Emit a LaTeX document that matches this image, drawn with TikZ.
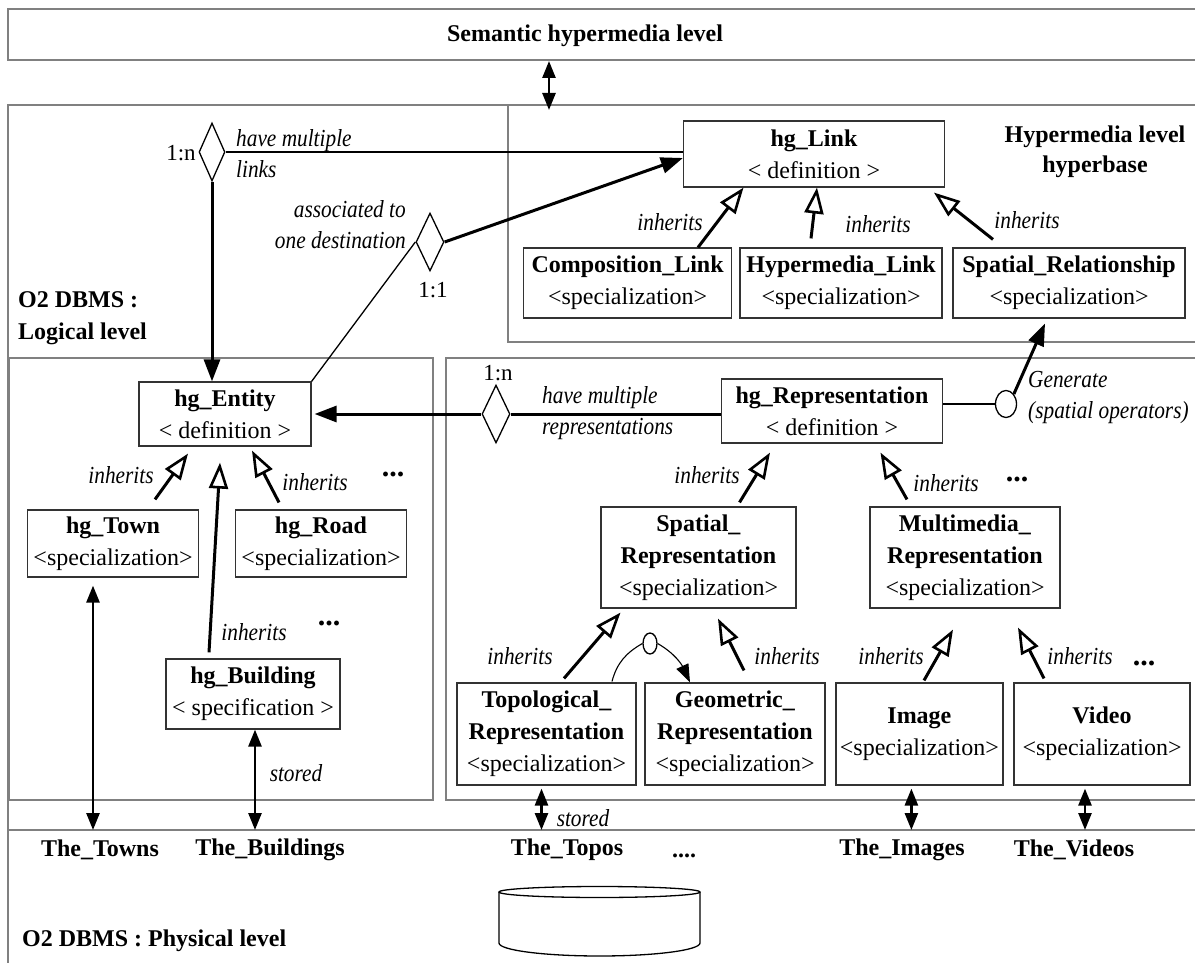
\documentclass[tikz,border=0pt]{standalone}
\usepackage{fontspec}
\setmainfont{Liberation Serif}
\newfontfamily\condserif{Liberation Serif}[FakeStretch=0.87]
\usetikzlibrary{arrows.meta,shapes.geometric,calc}
\begin{document}
\begin{tikzpicture}[x=1pt,y=-1pt,
  frame/.style={draw=black!50, line width=1.3pt},
  cls/.style={draw=black!80, line width=1.2pt, align=center, inner sep=0pt, font=\fontsize{24}{32}\selectfont},
  lbl/.style={font=\condserif\fontsize{24.5}{31}\selectfont\itshape, inner sep=0pt},
  blbl/.style={font=\fontsize{24}{32}\selectfont\bfseries, inner sep=0pt},
  dots/.style={font=\fontsize{30}{32}\selectfont\bfseries, inner sep=0pt},
  card/.style={font=\fontsize{23}{28}\selectfont, inner sep=0pt},
  diam/.style={draw=black, line width=1.3pt, diamond, inner sep=0pt, minimum width=26pt, minimum height=58pt},
  ell/.style={draw=black, line width=1.3pt, ellipse, inner sep=0pt},
  thinl/.style={line width=1.3pt},
  inh/.style={line width=3pt, -{Triangle[open, length=26pt, width=19pt, line width=2.6pt]}},
  assoc/.style={line width=3pt, -{Triangle[length=22pt, width=16pt]}},
  dbl/.style={line width=2.6pt, {Triangle[length=17pt, width=13pt]}-{Triangle[length=17pt, width=13pt]}}
]
\useasboundingbox (0,0) rectangle (1195,963);
% frames
\draw[frame] (1195,9) -- (8,9) -- (8,60) -- (1195,60);
\draw[frame] (1195,105) -- (8,105) -- (8,963);
\draw[frame] (508,105) -- (508,342) -- (1195,342);
\draw[frame] (9,358) rectangle (433,800);
\draw[frame] (1195,358) -- (446,358) -- (446,800) -- (1195,800);
\draw[frame] (8,830) -- (1195,830);

% level titles
\node[blbl] (sem) at (585,36) {Semantic hypermedia level};
\node[blbl, align=center] (hlh) at (1095,152) {Hypermedia level\\[-2pt]hyperbase};
\node[blbl, align=left, anchor=west] (lgl) at (18,318) {O2 DBMS :\\Logical level};
\node[blbl, anchor=west] (phys) at (22,941) {O2 DBMS : Physical level};

% class boxes
\node[cls, minimum width=261pt, minimum height=66pt] (hgLink) at (814,154) {\textbf{hg\_Link}\\< definition >};
\node[cls, minimum width=208pt, minimum height=70pt] (compLink) at (627.6,283) {\textbf{Composition\_Link}\\<specialization>};
\node[cls, minimum width=202pt, minimum height=70pt] (hyperLink) at (841,283) {\textbf{Hypermedia\_Link}\\<specialization>};
\node[cls, minimum width=232pt, minimum height=70pt] (spatRel) at (1069,283) {\textbf{Spatial\_Relationship}\\<specialization>};
\node[cls, minimum width=172pt, minimum height=64pt] (hgEntity) at (225,414) {\textbf{hg\_Entity}\\< definition >};
\node[cls, minimum width=171pt, minimum height=67pt] (hgTown) at (113,543.5) {\textbf{hg\_Town}\\<specialization>};
\node[cls, minimum width=171pt, minimum height=67pt] (hgRoad) at (321,543.5) {\textbf{hg\_Road}\\<specialization>};
\node[cls, minimum width=174pt, minimum height=70pt] (hgBuilding) at (253,694) {\textbf{hg\_Building}\\< specification >};
\node[cls, minimum width=221pt, minimum height=64pt] (hgRepr) at (832,411) {\textbf{hg\_Representation}\\< definition >};
\node[cls, minimum width=195pt, minimum height=101pt] (spatRepr) at (698.5,557.5) {\textbf{Spatial\_}\\\textbf{Representation}\\<specialization>};
\node[cls, minimum width=190pt, minimum height=101pt] (multiRepr) at (965,557.5) {\textbf{Multimedia\_}\\\textbf{Representation}\\<specialization>};
\node[cls, minimum width=179pt, minimum height=102pt] (topo) at (546.5,734) {\textbf{Topological\_}\\\textbf{Representation}\\<specialization>};
\node[cls, minimum width=180pt, minimum height=102pt] (geom) at (735,734) {\textbf{Geometric\_}\\\textbf{Representation}\\<specialization>};
\node[cls, minimum width=167pt, minimum height=102pt] (image) at (919.4,734) {\textbf{Image}\\<specialization>};
\node[cls, minimum width=176pt, minimum height=102pt] (video) at (1102,734) {\textbf{Video}\\<specialization>};

% diamonds and circles
\node[diam] (d1) at (212,152) {};
\node[diam, minimum width=28pt] (d2) at (430,242) {};
\node[diam, minimum width=28pt] (d3) at (496,414) {};
\node[ell, minimum width=21pt, minimum height=27pt] (gen) at (1006,404) {};
\node[ell, minimum width=14pt, minimum height=21pt] (arcc) at (650,643.5) {};

% association labels
\node[card] (c1) at (181,153) {1:n};
\node[lbl, align=left, anchor=west] (hml) at (236,154) {have multiple\\links};
\node[lbl, align=right, anchor=east] (atd) at (406,225) {associated to\\one destination};
\node[card] (c2) at (433,290) {1:1};
\node[card] (c3) at (498,373) {1:n};
\node[lbl, align=left, anchor=west] (hmr) at (542,413) {have multiple\\representations};
\node[lbl, align=left, anchor=west] (genl) at (1028,397) {Generate\\(spatial operators)};

% inherits labels
\node[lbl] (i1) at (670,222) {inherits};
\node[lbl] (i2) at (878,224) {inherits};
\node[lbl] (i3) at (1027,220) {inherits};
\node[lbl] (i4) at (121,475) {inherits};
\node[lbl] (i5) at (315,482) {inherits};
\node[lbl] (i6) at (254,632) {inherits};
\node[lbl] (i7) at (707,475) {inherits};
\node[lbl] (i8) at (946,483) {inherits};
\node[lbl] (i9) at (520,656) {inherits};
\node[lbl] (i10) at (787,656) {inherits};
\node[lbl] (i11) at (891,656) {inherits};
\node[lbl] (i12) at (1080,656) {inherits};
\node[dots] (dt1) at (393,474) {...};
\node[dots] (dt2) at (329,623) {...};
\node[dots] (dt3) at (1017,479) {...};
\node[dots] (dt4) at (1144,663) {...};
\node[lbl] (st1) at (296,773) {stored};
\node[lbl] (st2) at (583,818) {stored};

% physical level labels
\node[blbl] (towns) at (100,850) {The\_Towns};
\node[blbl] (buildings) at (270,850) {The\_Buildings};
\node[blbl] (topos) at (567,850) {The\_Topos};
\node[blbl] (pdots) at (684,856) {....};
\node[blbl] (images) at (902,850) {The\_Images};
\node[blbl] (videos) at (1074,850) {The\_Videos};

% cylinder (database)
\draw[line width=1.3pt] (499,892) -- (499,943)
  .. controls (499,950.2) and (544,956) .. (599.5,956)
  .. controls (655,956) and (700,950.2) .. (700,943) -- (700,892);
\draw[line width=1.3pt] (599.5,892) ellipse [x radius=100.5pt, y radius=5.5pt];

% top double arrow
\coordinate (semb) at (549,61);
\coordinate (logt) at (549,110);
\draw[dbl] (semb) -- (logt);

% associations
\draw[assoc] (d1.south) -- (d1.south |- hgEntity.north);
\draw[thinl] (d1.east) -- (d1.east -| hgLink.west);
\draw[assoc] (d2.east) -- ($(hgLink.west)+(0,4)$);
\draw[thinl] (d2.west) -- (hgEntity.north east);
\draw[line width=3pt] (d3.east -| hgRepr.west) -- (d3.east);
\draw[assoc, shorten >=3pt] (d3.west) -- (hgEntity.east);
\draw[thinl] (gen.west -| hgRepr.east) -- (gen.west);
\draw[assoc] (gen.north east) -- ($(spatRel.south)+(-24,5)$);

% inheritance
\draw[inh] ($(compLink.north)+(70.4,0)$) -- ($(hgLink.south)+(-70.5,0)$);
\draw[inh] ($(hyperLink.north)+(-30,-9)$) -- ($(hgLink.south)+(3,0)$);
\draw[inh] ($(spatRel.north)+(-76,-8)$) -- ($(hgLink.south)+(120,5)$);
\draw[inh] ($(hgTown.north)+(42,-10)$) -- ($(hgEntity.south)+(-37,7)$);
\draw[inh] ($(hgBuilding.north)+(-44,-6)$) -- ($(hgEntity.south)+(-5,16)$);
\draw[inh] ($(hgRoad.north)+(-42,-7)$) -- ($(hgEntity.south)+(27,4)$);
\draw[inh] ($(spatRepr.north)+(41,-4)$) -- ($(hgRepr.south)+(-62,9)$);
\draw[inh] ($(multiRepr.north)+(-58,-7)$) -- ($(hgRepr.south)+(48.5,9)$);
\draw[inh] ($(topo.north)+(17.5,-4)$) -- ($(spatRepr.south)+(-78,4)$);
\draw[inh] ($(geom.north)+(9,-12)$) -- ($(spatRepr.south)+(19.5,10)$);
\draw[inh] ($(image.north)+(4.6,-2)$) -- ($(multiRepr.south)+(-12,21)$);
\draw[inh] ($(video.north)+(-58,-4)$) -- ($(multiRepr.south)+(53,19)$);

% arc between topological and geometric
\draw[line width=1.1pt] ($(topo.north)+(65.5,-1)$) to[out=75,in=210] (arcc.west);
\draw[line width=1.1pt, -{Triangle[length=18pt, width=13pt]}] (arcc.east) to[out=-30,in=115] ($(geom.north)+(-45,0)$);

% storage arrows
\coordinate (pl) at (600,830);
\coordinate (tA) at ($(hgTown.south)+(-20,8)$);
\coordinate (tB) at ($(hgBuilding.south)+(2,0)$);
\coordinate (tC) at ($(topo.south)+(-5,3)$);
\coordinate (tD) at ($(image.south)+(-8,3)$);
\coordinate (tE) at ($(video.south)+(-17,3)$);
\draw[dbl] (tA) -- (tA |- pl);
\draw[dbl] (tB) -- (tB |- pl);
\draw[dbl] (tC) -- (tC |- pl);
\draw[dbl] (tD) -- (tD |- pl);
\draw[dbl] (tE) -- (tE |- pl);
\end{tikzpicture}
\end{document}
